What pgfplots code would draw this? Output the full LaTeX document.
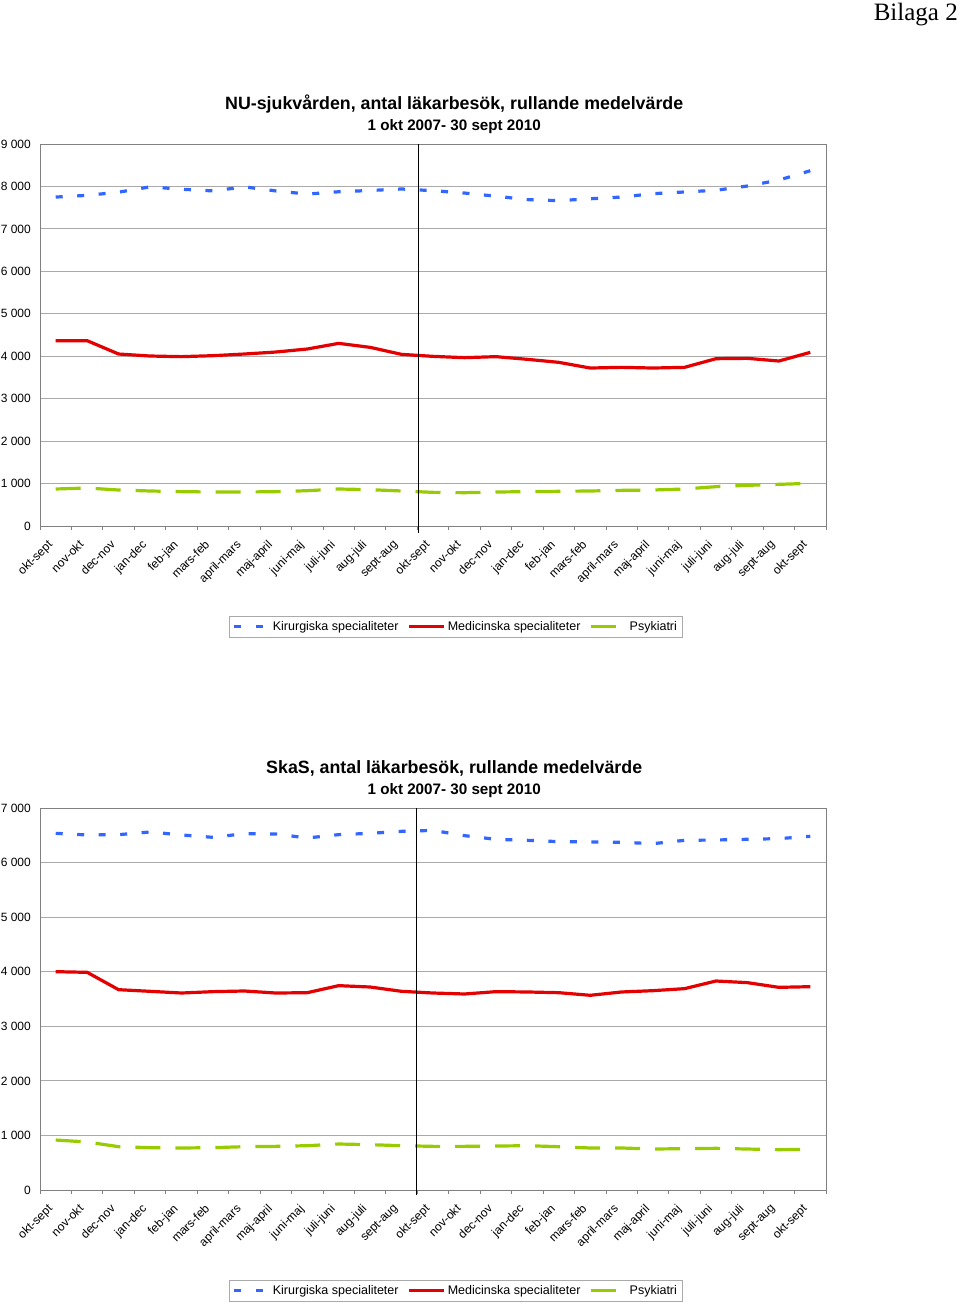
\documentclass[border=0pt]{standalone}
\usepackage{fontspec}
\setmainfont{Liberation Sans}
\newfontfamily\bilagafont{Liberation Serif}
\usepackage{pgfplots}
\usepackage{pgfplotstable}
\pgfplotsset{compat=1.18}

\definecolor{kirblue}{RGB}{51,102,255}
\definecolor{medred}{RGB}{228,0,0}
\definecolor{psygreen}{RGB}{153,204,0}
\definecolor{gridgray}{RGB}{170,170,170}
\definecolor{framegray}{RGB}{128,128,128}

% NU-sjukvarden, rullande medelvarde
\pgfplotstableread{
i  kir  med  psy
0  7750 4366 872
1  7790 4366 895
2  7865 4052 848
3  7990 4005 825
4  7935 3990 809
5  7895 4013 801
6  7990 4052 801
7  7895 4099 809
8  7820 4170 832
9  7875 4303 872
10 7905 4209 856
11 7940 4044 825
12 7900 3997 793
13 7845 3966 785
14 7770 3990 801
15 7690 3927 809
16 7665 3856 817
17 7710 3722 825
18 7750 3738 840
19 7830 3722 848
20 7870 3738 872
21 7910 3942 927
22 8010 3950 958
23 8150 3887 982
24 8370 4091 1005
}\nudata

% SkaS, rullande medelvarde
\pgfplotstableread{
i  kir  med  psy
0  6536 4001 916
1  6506 3989 880
2  6512 3671 794
3  6561 3641 776
4  6506 3610 770
5  6463 3635 776
6  6530 3647 794
7  6524 3610 800
8  6451 3616 812
9  6512 3745 843
10 6536 3720 831
11 6573 3641 812
12 6590 3610 800
13 6494 3592 800
14 6426 3635 806
15 6408 3629 812
16 6384 3616 794
17 6378 3568 770
18 6372 3629 770
19 6347 3653 751
20 6408 3690 758
21 6414 3830 764
22 6427 3800 751
23 6439 3714 739
24 6482 3726 745
}\skasdata

\pgfplotsset{
  bilaga/.style={
    scale only axis, width=786pt, height=382pt,
    anchor=south west,
    xmin=-0.5, xmax=24.5, ymin=0,
    xtick={0,...,24},
    xticklabels={okt-sept,nov-okt,dec-nov,jan-dec,feb-jan,mars-feb,april-mars,maj-april,juni-maj,juli-juni,aug-juli,sept-aug,okt-sept,nov-okt,dec-nov,jan-dec,feb-jan,mars-feb,april-mars,maj-april,juni-maj,juli-juni,aug-juli,sept-aug,okt-sept},
    minor xtick={-0.5,0.5,...,24.5},
    major tick length=0pt, minor tick length=4pt, tick align=outside,
    tick style={framegray, line width=0.8pt},
    xtick pos=bottom, ytick pos=left,
    axis line style={framegray, line width=1pt},
    ymajorgrids, major grid style={gridgray, line width=0.9pt},
    % shifts before rotate, so they act in the page frame
    xticklabel style={xshift=-9pt, yshift=-13pt, rotate=45, anchor=north east,
      inner sep=0pt, font=\fontsize{12}{14}\selectfont},
    yticklabel style={anchor=east, inner sep=0pt, xshift=-9pt,
      font=\fontsize{12}{14}\selectfont},
    clip=false,
    legend columns=3,
    legend cell align=left,
    legend style={at={(axis description cs:0.529,-0.264)}, anchor=center,
      draw=gridgray, line width=0.8pt, inner sep=3pt,
      font=\fontsize{12.5}{14}\selectfont,
      /tikz/every even column/.append style={column sep=7pt}},
    legend image code/.code={\draw[##1] (0pt,0pt) -- (35pt,0pt);},
    title style={at={(axis description cs:0.527,1)}, anchor=south,
      inner sep=0pt, yshift=4pt, align=center, font=\fontsize{15.2}{21}\selectfont},
  },
  kir/.style={kirblue, line width=3.2pt, dash pattern=on 7pt off 14.5pt},
  med/.style={medred, line width=3.2pt, line join=round},
  psy/.style={psygreen, line width=3.2pt, dash pattern=on 25pt off 15pt},
}

\begin{document}
\begin{tikzpicture}
\path[use as bounding box] (0pt,0pt) rectangle (960pt,-1305pt);

\node[anchor=north east, inner sep=0pt, font=\bilagafont\fontsize{25}{28}\selectfont] at (958pt,-3pt) {Bilaga 2};

\begin{axis}[bilaga, at={(40pt,-526pt)},
    ymax=9000, ytick={0,1000,...,9000},
    yticklabels={0,1 000,2 000,3 000,4 000,5 000,6 000,7 000,8 000,9 000},
    title={{\fontsize{17.8}{21}\selectfont\bfseries NU-sjukvården, antal läkarbesök, rullande medelvärde}\\
           {\bfseries 1 okt 2007- 30 sept 2010}}]
\addplot[kir] table[x=i, y=kir] {\nudata};
\addplot[med] table[x=i, y=med] {\nudata};
\addplot[psy] table[x=i, y=psy] {\nudata};
\addplot[black, line width=0.8pt, forget plot] coordinates {(11.55,9000) (11.55,-160)};
\legend{Kirurgiska specialiteter, Medicinska specialiteter, Psykiatri}
\end{axis}

\begin{axis}[bilaga, at={(40pt,-1190pt)},
    ymax=7000, ytick={0,1000,...,7000},
    yticklabels={0,1 000,2 000,3 000,4 000,5 000,6 000,7 000},
    title={{\fontsize{17.8}{21}\selectfont\bfseries SkaS, antal läkarbesök, rullande medelvärde}\\
           {\bfseries 1 okt 2007- 30 sept 2010}}]
\addplot[kir] table[x=i, y=kir] {\skasdata};
\addplot[med] table[x=i, y=med] {\skasdata};
\addplot[psy] table[x=i, y=psy] {\skasdata};
\addplot[black, line width=0.8pt, forget plot] coordinates {(11.47,7000) (11.47,-90)};
\legend{Kirurgiska specialiteter, Medicinska specialiteter, Psykiatri}
\end{axis}
\end{tikzpicture}
\end{document}
